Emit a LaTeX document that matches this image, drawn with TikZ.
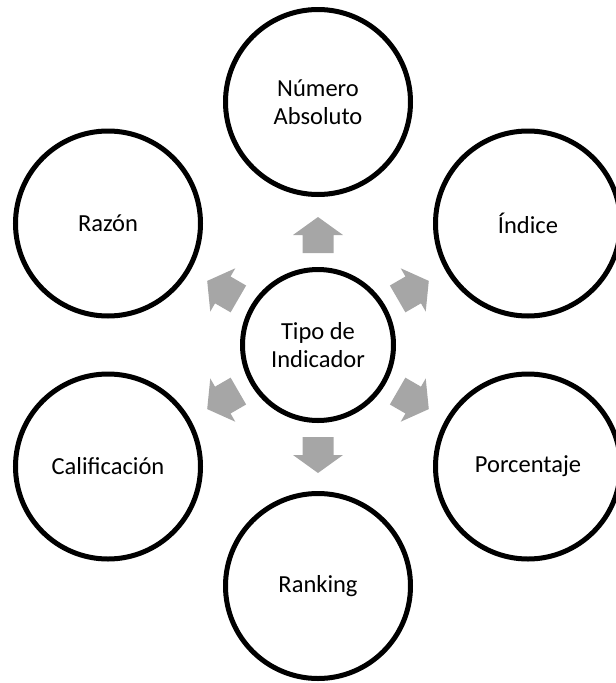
\documentclass[tikz,border=0pt]{standalone}
\usepackage{fontspec}
\setmainfont{Carlito}
\usetikzlibrary{calc}

\tikzset{
  ring/.style={circle, draw=black, line width=5pt, minimum size=185pt, inner sep=0pt,
               align=center, font=\fontsize{24.5}{27.5}\selectfont},
  hub/.style={ring, minimum size=151pt},
  arrowfill/.style={fill=black!35, draw=none}
}

% block arrow pointing from node #1 towards node #2
\newcommand\blockarrow[2]{%
  \fill[arrowfill]
    ($($(#1)!92pt!(#2)$)!15.5pt!90:(#2)$) --
    ($($(#1)!110pt!(#2)$)!15.5pt!90:(#2)$) --
    ($($(#1)!110pt!(#2)$)!25pt!90:(#2)$) --
    ($(#1)!128pt!(#2)$) --
    ($($(#1)!110pt!(#2)$)!25pt!-90:(#2)$) --
    ($($(#1)!110pt!(#2)$)!15.5pt!-90:(#2)$) --
    ($($(#1)!92pt!(#2)$)!15.5pt!-90:(#2)$) -- cycle;}

\begin{document}
\begin{tikzpicture}[x=1pt,y=-1pt]
  \useasboundingbox (0,0) rectangle (616,683);
  \clip (0,0) rectangle (616,683);

  \node[hub]  (c) at (318,345) {Tipo de\\Indicador};
  \node[ring] (n) at (318,102) {Número\\Absoluto};
  \node[ring] (i) at (528,223.5) {Índice};
  \node[ring] (p) at (528,466.5) {Porcentaje};
  \node[ring] (r) at (318,586) {Ranking};
  \node[ring] (k) at (108,466.5) {Calificación};
  \node[ring] (z) at (108,223.5) {Razón};

  \foreach \t in {n,i,p,r,k,z} {\blockarrow{c}{\t}}
\end{tikzpicture}
\end{document}
